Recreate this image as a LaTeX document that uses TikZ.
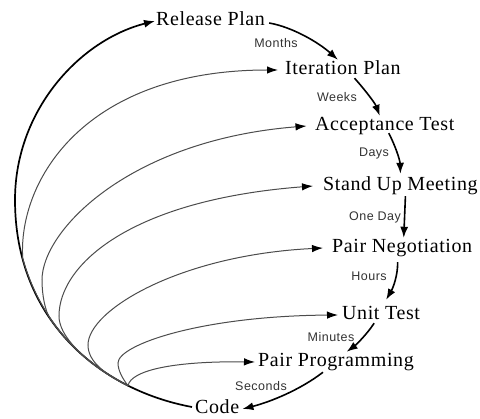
\documentclass[tikz,border=0pt]{standalone}
\usepackage{fontspec}
\setmainfont{Liberation Serif}
\newfontfamily\stagefont{Liberation Serif}[LetterSpace=3]
\newfontfamily\lblfont{Liberation Sans}[LetterSpace=4]
\usetikzlibrary{arrows.meta}
\tikzset{
  stage/.style={font=\stagefont\fontsize{20}{24}\selectfont, inner sep=1pt,
    text height=14pt, text depth=4pt, anchor=base west},
  lbl/.style={font=\lblfont\fontsize{12.5}{14}\selectfont, text=black!80,
    inner sep=0pt, anchor=base},
  conn/.style={line width=1.6pt, -{Latex[length=11pt,width=8pt]}},
  outerarc/.style={line width=1.7pt, -{Latex[length=11pt,width=8pt]}},
  innerarc/.style={line width=1pt, draw=black!70, -{Latex[length=11pt,width=7.5pt,color=black]}}
}
\begin{document}
\begin{tikzpicture}[x=1pt,y=-1pt]
\useasboundingbox[fill=white] (0,0) rectangle (480,419);

% stages
\node[stage] (RP) at (155,26) {Release Plan};
\node[stage] (IP) at (284,75) {Iteration Plan};
\node[stage] (AT) at (314,131) {Acceptance Test};
\node[stage] (SU) at (322,191) {Stand Up Meeting};
\node[stage] (PN) at (331,253) {Pair Negotiation};
\node[stage] (UT) at (341,320) {Unit Test};
\node[stage] (PP) at (257,367) {Pair Programming};
\node[stage] (CD) at (194,414) {Code};

% time labels
\node[lbl] (m) at (276,48) {Months};
\node[lbl] (w) at (337,102) {Weeks};
\node[lbl] (d) at (374,157) {Days};
\node[lbl] (od) at (375,221) {One Day};
\node[lbl] (h) at (369,281) {Hours};
\node[lbl] (mi) at (331,342) {Minutes};
\node[lbl] (s) at (261,391) {Seconds};

% helper coordinates
\coordinate (S) at (128,385.7);
\coordinate (L) at (15,200);

% right-hand chain
\draw[conn] ([shift={(3pt,-2pt)}]RP.east) .. controls (292,27) and (318,42) .. ([xshift=-5pt]IP.north);
\draw[conn] ([shift={(11.6pt,2pt)}]IP.south) .. controls (365,90) and (375,103) .. ([xshift=-5pt]AT.north);
\draw[conn] ([shift={(4pt,3pt)}]AT.south) .. controls (395,145) and (400,160) .. ([yshift=2pt]SU.north);
\draw[conn] ([xshift=5pt]SU.south) -- ([xshift=1.5pt]PN.north);
\draw[conn] ([shift={(-4.6pt,-4pt)}]PN.south) .. controls (398,275) and (393,288) .. ([shift={(5pt,5pt)}]UT.north);
\draw[conn] ([shift={(-7pt,2pt)}]UT.south) .. controls (368,333) and (356,345) .. ([xshift=10.6pt]PP.north);
\draw[conn] ([xshift=-13pt]PP.south) .. controls (300,390) and (270,402) .. ([xshift=2pt]CD.east);

% outer loop Code -> Release Plan
\draw[outerarc] ([shift={(-2pt,2pt)}]CD.west) .. controls (100,390) and (15,320) .. (L)
  .. controls (15,110) and (80,40) .. (RP.west);

% inner loops from Code
\draw[innerarc] (S) .. controls (79.2,361.5) and (39,317.5) .. (22.7,258.4)
  .. controls (18,180) and (85,70) .. ([xshift=-6pt]IP.west);
\draw[innerarc] (S) .. controls (97.7,370.5) and (70.8,348.4) .. (50.8,319.8)
  .. controls (45.1,311.6) and (42,295) .. (42,280)
  .. controls (42,230) and (130,140) .. ([xshift=-7.5pt]AT.west);
\draw[innerarc] (S) .. controls (117.1,380.2) and (106.7,373.8) .. (96.8,366.5)
  .. controls (80.7,354.7) and (59,335) .. (59,316)
  .. controls (59,265) and (130,200) .. ([xshift=-9pt]SU.west);
\draw[innerarc] (S) .. controls (105.6,374.5) and (88,362) .. (88,345)
  .. controls (88,310) and (180,255) .. ([xshift=-8pt]PN.west);
\draw[innerarc] (S) .. controls (123,379) and (118,371) .. (118,363)
  .. controls (118,345) and (200,316) .. ([xshift=-3pt]UT.west);
\draw[innerarc] (S) .. controls (131,370) and (175,361) .. ([xshift=-2pt]PP.west);
\end{tikzpicture}
\end{document}
